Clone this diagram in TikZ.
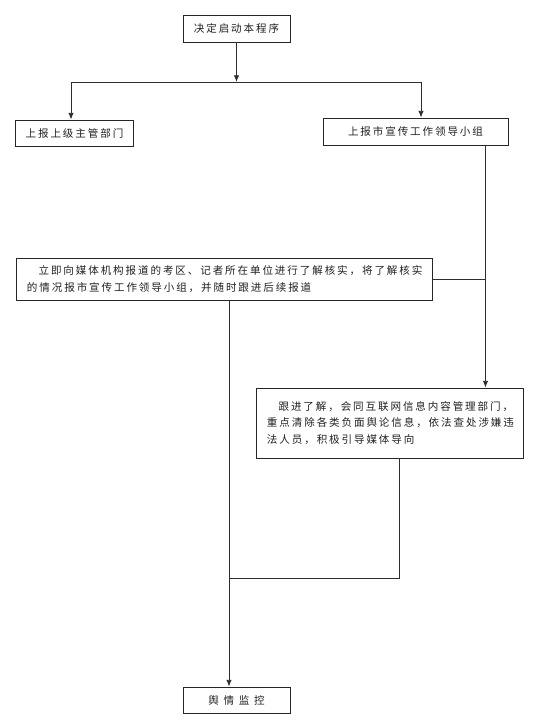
\documentclass[tikz,border=0pt]{standalone}
\usepackage{fontspec}
\newfontfamily\cjkfont[LetterSpace=18]{Noto Sans CJK SC}
\usetikzlibrary{arrows.meta, positioning, calc}
\tikzset{
  flowbox/.style={
    draw=gray!30!black, line width=0.8pt, align=center,
    font=\cjkfont\fontsize{9}{14}\selectfont, text=gray!25!black,
    inner sep=0pt, fill=white
  },
  notebox/.style={
    flowbox, align=left, inner xsep=0.33cm
  },
  flowline/.style={draw=gray!35!black, line width=0.7pt},
  flowarrow/.style={flowline, -{Latex[length=2mm, width=1.6mm]}},
}

\begin{document}
\begin{tikzpicture}[x=0.03cm, y=-0.03cm]
  \useasboundingbox (0,0) rectangle (534,723);
  \node[flowbox, minimum width=3.21cm, minimum height=0.81cm] (start) at (236.5,28.5) {决定启动本程序};
  \node[flowbox, minimum width=3.54cm, minimum height=0.78cm] (upper) at (74.5,133) {上报上级主管部门};
  \node[flowbox, minimum width=5.55cm, minimum height=0.81cm] (city) at (415.5,131.5) {上报市宣传工作领导小组};
  \node[notebox, text width=11.82cm, minimum height=1.26cm] (check) at (224,279)
    {\hspace*{1.1em}立即向媒体机构报道的考区、记者所在单位进行了解核实，将了解核实\\的情况报市宣传工作领导小组，并随时跟进后续报道};
  \node[notebox, text width=7.35cm, minimum height=2.1cm] (follow) at (389.5,423)
    {\hspace*{1.1em}跟进了解，会同互联网信息内容管理部门，\\重点清除各类负面舆论信息，依法查处涉嫌违\\法人员，积极引导媒体导向};
  \node[flowbox, minimum width=3.21cm, minimum height=0.78cm] (monitor) at (236.5,700) {舆\hspace{0.45em}情\hspace{0.45em}监\hspace{0.45em}控};

  \coordinate (split) at (236.5,82);
  \coordinate (lbranch) at (71,82);
  \coordinate (rbranch) at (421,82);
  \coordinate (rdown) at ($(city.south east)+(-23,0)$);
  \coordinate (cdown) at ($(check.south)+(5,0)$);
  \coordinate (fdown) at ($(follow.south)+(10,0)$);
  \coordinate (merge) at (cdown |- 0,578);

  \draw[flowarrow] (start) -- (split);
  \draw[flowline] (lbranch) -- (rbranch);
  \draw[flowarrow] (lbranch) -- (lbranch |- upper.north);
  \draw[flowarrow] (rbranch) -- (rbranch |- city.north);
  \draw[flowarrow] (rdown) -- (rdown |- follow.north);
  \draw[flowline] (check.east) -- (check.east -| rdown);
  \draw[flowarrow] (cdown) -- (cdown |- monitor.north);
  \draw[flowline] (fdown) |- (merge);
\end{tikzpicture}
\end{document}
